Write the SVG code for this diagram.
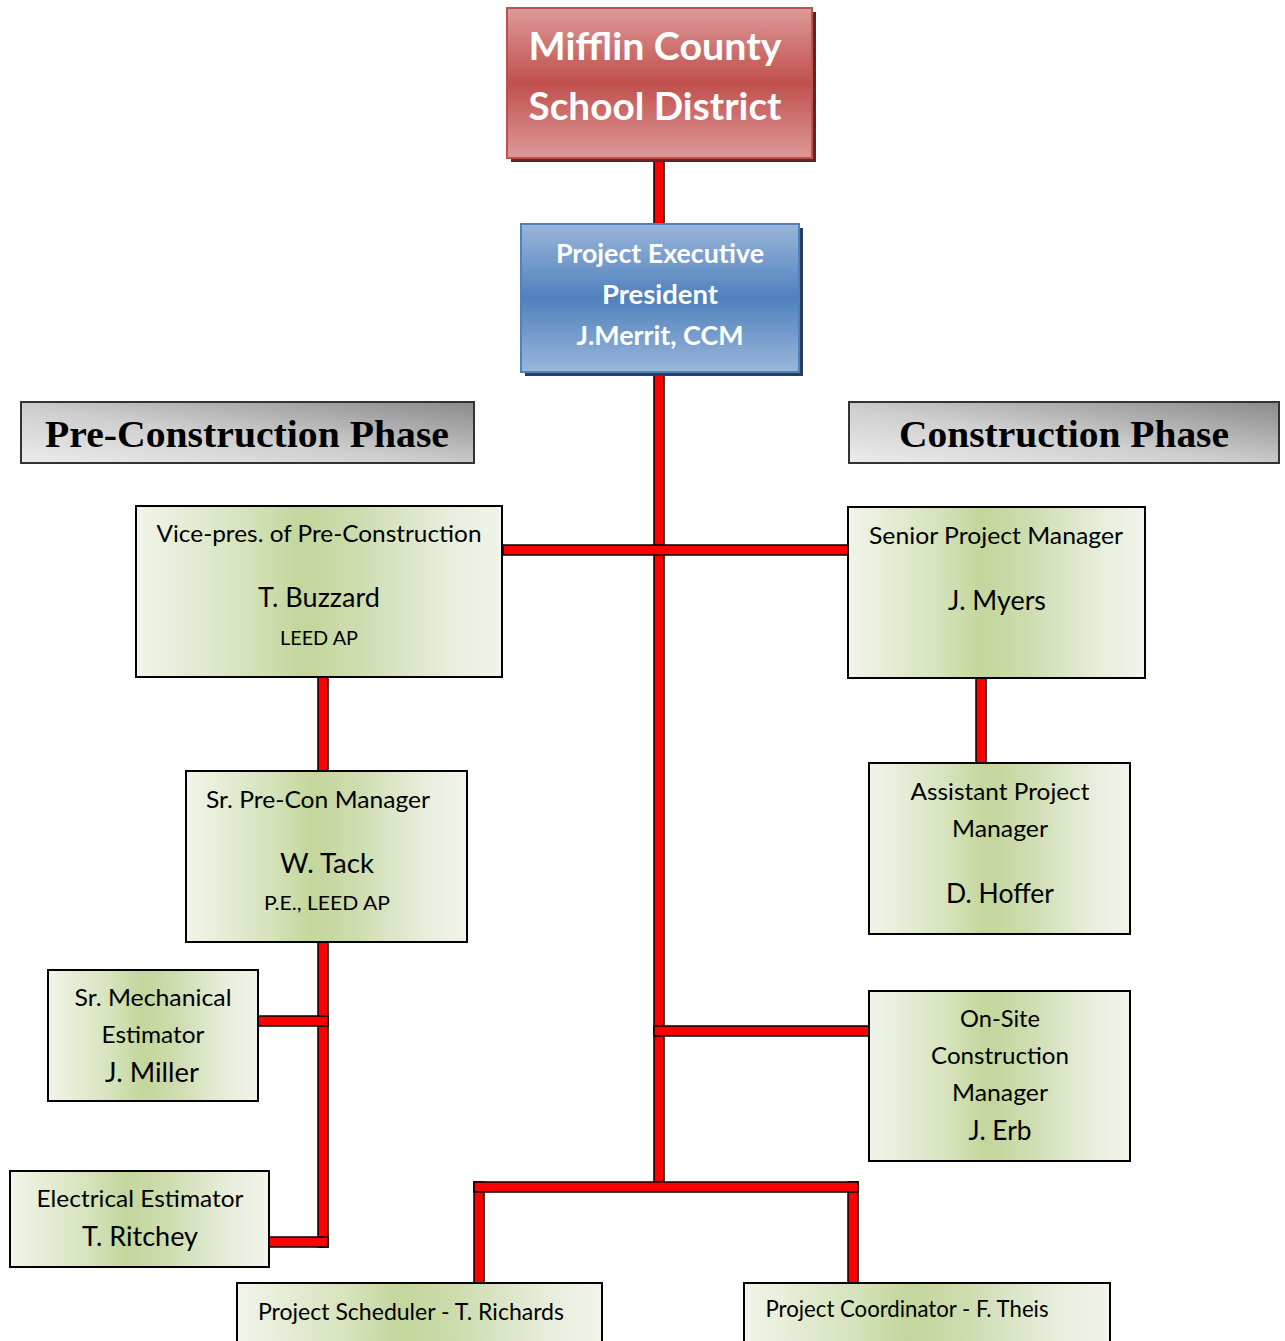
<svg xmlns="http://www.w3.org/2000/svg" width="1285" height="1341" viewBox="0 0 1285 1341">
<defs>
<linearGradient id="gRed" x1="0" y1="0" x2="0" y2="1">
<stop offset="0" stop-color="#dd9a99"/><stop offset="0.5" stop-color="#c0504d"/><stop offset="1" stop-color="#dd9a99"/>
</linearGradient>
<linearGradient id="gBlue" x1="0" y1="0" x2="0" y2="1">
<stop offset="0" stop-color="#9ab6da"/><stop offset="0.5" stop-color="#4f81bd"/><stop offset="1" stop-color="#9ab6da"/>
</linearGradient>
<linearGradient id="gGray" x1="0" y1="1" x2="1" y2="0">
<stop offset="0" stop-color="#ececec"/><stop offset="0.45" stop-color="#cfcfcf"/><stop offset="1" stop-color="#8a8a8a"/>
</linearGradient>
<linearGradient id="gGreen" x1="0" y1="0" x2="1" y2="0">
<stop offset="0" stop-color="#f1f5ea"/><stop offset="0.3" stop-color="#d6e3bc"/><stop offset="0.45" stop-color="#c3d69b"/><stop offset="0.6" stop-color="#cddcae"/><stop offset="0.85" stop-color="#e7eedc"/><stop offset="1" stop-color="#f1f5ea"/>
</linearGradient>
</defs>
<style>
.conn{fill:#ff0000;stroke:#000;stroke-width:1.5}
.box{fill:url(#gGreen);stroke:#000;stroke-width:2}
.t{font-family:Lato,"Liberation Sans",sans-serif;fill:#000;text-anchor:middle}
.s23{font-size:23px}
.s26{font-size:26px}
.s20{font-size:20px}
.w{font-family:Lato,"Liberation Sans",sans-serif;fill:#fff;font-weight:bold;text-anchor:middle}
.hdr{font-family:"Liberation Serif","DejaVu Serif",serif;font-weight:bold;font-size:38px;fill:#000;text-anchor:middle}
</style>
<rect width="1285" height="1341" fill="#fff"/>
<g id="connectors">
<rect class="conn" x="654" y="158" width="10" height="66"/>
<rect class="conn" x="654" y="372" width="10" height="815"/>
<rect class="conn" x="503" y="545" width="345" height="10"/>
<rect class="conn" x="318" y="677" width="10" height="94"/>
<rect class="conn" x="318" y="942" width="10" height="305"/>
<rect class="conn" x="258" y="1016" width="70" height="10"/>
<rect class="conn" x="269" y="1237" width="59" height="10"/>
<rect class="conn" x="976" y="678" width="10" height="85"/>
<rect class="conn" x="654" y="1026" width="215" height="10"/>
<rect class="conn" x="474" y="1182" width="10" height="101"/>
<rect class="conn" x="848" y="1182" width="10" height="101"/>
<rect class="conn" x="474" y="1182" width="384" height="10"/>
</g>
<g id="n-district">
<rect x="511" y="12" width="305" height="150" fill="#632523"/>
<rect x="507" y="8" width="305" height="150" fill="url(#gRed)" stroke="#c0504d" stroke-width="2"/>
<text class="w" x="655" y="60" font-size="38" textLength="253" lengthAdjust="spacingAndGlyphs">Mifflin County</text>
<text class="w" x="655" y="120" font-size="38" textLength="253" lengthAdjust="spacingAndGlyphs">School District</text>
</g>
<g id="n-exec">
<rect x="525" y="228" width="278" height="148" fill="#243f60"/>
<rect x="521" y="224" width="278" height="148" fill="url(#gBlue)" stroke="#4f81bd" stroke-width="2"/>
<text class="w" x="660" y="263" font-size="26" textLength="208" lengthAdjust="spacingAndGlyphs">Project Executive</text>
<text class="w" x="660" y="304" font-size="26" textLength="116" lengthAdjust="spacingAndGlyphs">President</text>
<text class="w" x="660" y="345" font-size="26" textLength="167" lengthAdjust="spacingAndGlyphs">J.Merrit, CCM</text>
</g>
<g id="h-precon">
<rect x="21" y="402" width="453" height="61" fill="url(#gGray)" stroke="#333" stroke-width="2"/>
<text class="hdr" x="247" y="447" textLength="404" lengthAdjust="spacingAndGlyphs">Pre-Construction Phase</text>
</g>
<g id="h-con">
<rect x="849" y="402" width="430" height="61" fill="url(#gGray)" stroke="#333" stroke-width="2"/>
<text class="hdr" x="1064" y="447" textLength="330" lengthAdjust="spacingAndGlyphs">Construction Phase</text>
</g>
<g id="n-vp">
<rect class="box" x="136" y="506" width="366" height="171"/>
<text class="t s23" x="319" y="542" textLength="325" lengthAdjust="spacingAndGlyphs">Vice-pres. of Pre-Construction</text>
<text class="t s26" x="319" y="607" textLength="122" lengthAdjust="spacingAndGlyphs">T. Buzzard</text>
<text class="t s20" x="319" y="645" textLength="78" lengthAdjust="spacingAndGlyphs">LEED AP</text>
</g>
<g id="n-spm">
<rect class="box" x="848" y="507" width="297" height="171"/>
<text class="t s23" x="996" y="544" textLength="254" lengthAdjust="spacingAndGlyphs">Senior Project Manager</text>
<text class="t s26" x="997" y="610" textLength="98" lengthAdjust="spacingAndGlyphs">J. Myers</text>
</g>
<g id="n-precon-mgr">
<rect class="box" x="186" y="771" width="281" height="171"/>
<text class="t s23" x="318" y="808" textLength="224" lengthAdjust="spacingAndGlyphs">Sr. Pre-Con Manager</text>
<text class="t s26" x="327" y="873" textLength="94" lengthAdjust="spacingAndGlyphs">W. Tack</text>
<text class="t s20" x="327" y="910" textLength="126" lengthAdjust="spacingAndGlyphs">P.E., LEED AP</text>
</g>
<g id="n-apm">
<rect class="box" x="869" y="763" width="261" height="171"/>
<text class="t s23" x="1000" y="800" textLength="179" lengthAdjust="spacingAndGlyphs">Assistant Project</text>
<text class="t s23" x="1000" y="837" textLength="96" lengthAdjust="spacingAndGlyphs">Manager</text>
<text class="t s26" x="1000" y="903" textLength="108" lengthAdjust="spacingAndGlyphs">D. Hoffer</text>
</g>
<g id="n-mech">
<rect class="box" x="48" y="970" width="210" height="131"/>
<text class="t s23" x="153" y="1006" textLength="157" lengthAdjust="spacingAndGlyphs">Sr. Mechanical</text>
<text class="t s23" x="153" y="1043" textLength="103" lengthAdjust="spacingAndGlyphs">Estimator</text>
<text class="t s26" x="152" y="1082" textLength="94" lengthAdjust="spacingAndGlyphs">J. Miller</text>
</g>
<g id="n-elec">
<rect class="box" x="10" y="1171" width="259" height="96"/>
<text class="t s23" x="140" y="1207" textLength="207" lengthAdjust="spacingAndGlyphs">Electrical Estimator</text>
<text class="t s26" x="140" y="1246" textLength="116" lengthAdjust="spacingAndGlyphs">T. Ritchey</text>
</g>
<g id="n-onsite">
<rect class="box" x="869" y="991" width="261" height="170"/>
<text class="t s23" x="1000" y="1027" textLength="80" lengthAdjust="spacingAndGlyphs">On-Site</text>
<text class="t s23" x="1000" y="1064" textLength="138" lengthAdjust="spacingAndGlyphs">Construction</text>
<text class="t s23" x="1000" y="1101" textLength="96" lengthAdjust="spacingAndGlyphs">Manager</text>
<text class="t s26" x="1000" y="1140" textLength="63" lengthAdjust="spacingAndGlyphs">J. Erb</text>
</g>
<g id="n-sched">
<rect class="box" x="237" y="1283" width="365" height="70"/>
<text class="t s23" x="411" y="1320" textLength="306" lengthAdjust="spacingAndGlyphs">Project Scheduler - T. Richards</text>
</g>
<g id="n-coord">
<rect class="box" x="744" y="1283" width="366" height="70"/>
<text class="t s23" x="907" y="1317" textLength="283" lengthAdjust="spacingAndGlyphs">Project Coordinator - F. Theis</text>
</g>
</svg>
